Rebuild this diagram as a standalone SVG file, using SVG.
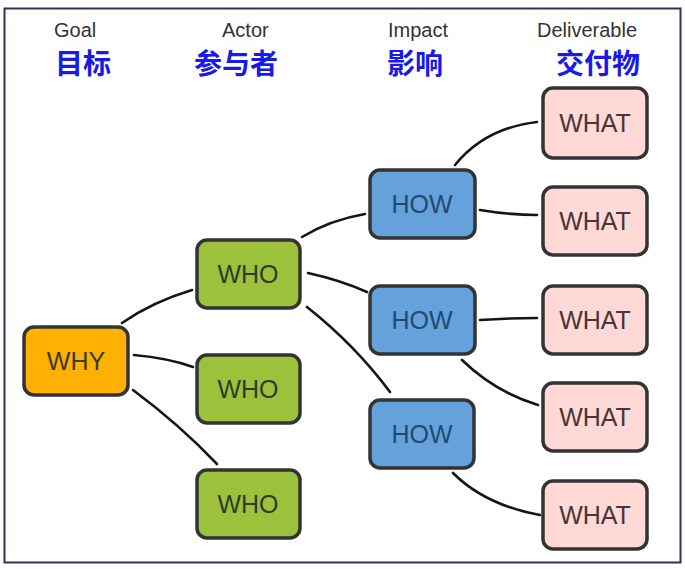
<svg xmlns="http://www.w3.org/2000/svg" width="685" height="569" viewBox="0 0 685 569">
<style>
.hdr{font-family:"Liberation Sans",Arial,sans-serif;font-size:20px;fill:#333;}
.cn{font-family:"Noto Sans CJK SC","Noto Sans",sans-serif;font-size:28px;font-weight:bold;fill:#1a1ae8;}
.box{stroke:#333;stroke-width:3.5;}
.lbl{font-family:"Liberation Sans",Arial,sans-serif;font-size:25px;text-anchor:middle;}
.why{fill:#ffb000;}
.who{fill:#9cc23b;}
.how{fill:#65a2dc;}
.what{fill:#ffd9d5;}
.conn path{fill:none;stroke:#151515;stroke-width:2.6;stroke-linecap:round;}
</style>
<rect x="0" y="0" width="685" height="569" fill="#ffffff"/>
<rect x="4.5" y="8.5" width="676" height="554" fill="#ffffff" stroke="#2b3650" stroke-width="2"/>
<g id="headers">
<text class="hdr" x="54" y="37">Goal</text>
<text class="cn" x="55" y="74">目标</text>
<text class="hdr" x="222" y="37">Actor</text>
<text class="cn" x="194" y="74">参与者</text>
<text class="hdr" x="388" y="37">Impact</text>
<text class="cn" x="387" y="74">影响</text>
<text class="hdr" x="537" y="37">Deliverable</text>
<text class="cn" x="556" y="74">交付物</text>
</g>
<g id="connectors" class="conn">
<path d="M122,323 Q152,302 192,290"/>
<path d="M134,355 Q168,358 193,367"/>
<path d="M133,390 Q180,425 217,464"/>
<path d="M302,237 Q330,220 365,214"/>
<path d="M308,273 Q340,280 367,292"/>
<path d="M307,307 Q355,345 390,392"/>
<path d="M455,165 Q485,128 537,122"/>
<path d="M480,210 Q510,215 537,215"/>
<path d="M480,320 Q510,318 537,318"/>
<path d="M462,360 Q495,392 538,405"/>
<path d="M453,473 Q485,505 540,515"/>
</g>
<g id="why">
<rect class="box why" x="24" y="327" width="104" height="68" rx="10"/>
<text class="lbl" x="76" y="370" fill="#3a3a3a">WHY</text>
</g>
<g id="who1">
<rect class="box who" x="197" y="240" width="103" height="68" rx="10"/>
<text class="lbl" x="248" y="283" fill="#2f3a2a">WHO</text>
</g>
<g id="who2">
<rect class="box who" x="197" y="355" width="103" height="68" rx="10"/>
<text class="lbl" x="248" y="398" fill="#2f3a2a">WHO</text>
</g>
<g id="who3">
<rect class="box who" x="197" y="470" width="103" height="68" rx="10"/>
<text class="lbl" x="248" y="513" fill="#2f3a2a">WHO</text>
</g>
<g id="how1">
<rect class="box how" x="370" y="170" width="105" height="68" rx="10"/>
<text class="lbl" x="422" y="213" fill="#204a72">HOW</text>
</g>
<g id="how2">
<rect class="box how" x="370" y="286" width="105" height="68" rx="10"/>
<text class="lbl" x="422" y="329" fill="#204a72">HOW</text>
</g>
<g id="how3">
<rect class="box how" x="370" y="400" width="104" height="68" rx="10"/>
<text class="lbl" x="422" y="443" fill="#204a72">HOW</text>
</g>
<g id="what1">
<rect class="box what" x="543" y="88" width="104" height="70" rx="10"/>
<text class="lbl" x="595" y="132" fill="#4a3434">WHAT</text>
</g>
<g id="what2">
<rect class="box what" x="543" y="187" width="104" height="68" rx="10"/>
<text class="lbl" x="595" y="230" fill="#4a3434">WHAT</text>
</g>
<g id="what3">
<rect class="box what" x="543" y="286" width="104" height="68" rx="10"/>
<text class="lbl" x="595" y="329" fill="#4a3434">WHAT</text>
</g>
<g id="what4">
<rect class="box what" x="543" y="383" width="104" height="68" rx="10"/>
<text class="lbl" x="595" y="426" fill="#4a3434">WHAT</text>
</g>
<g id="what5">
<rect class="box what" x="543" y="481" width="104" height="68" rx="10"/>
<text class="lbl" x="595" y="524" fill="#4a3434">WHAT</text>
</g>
</svg>
